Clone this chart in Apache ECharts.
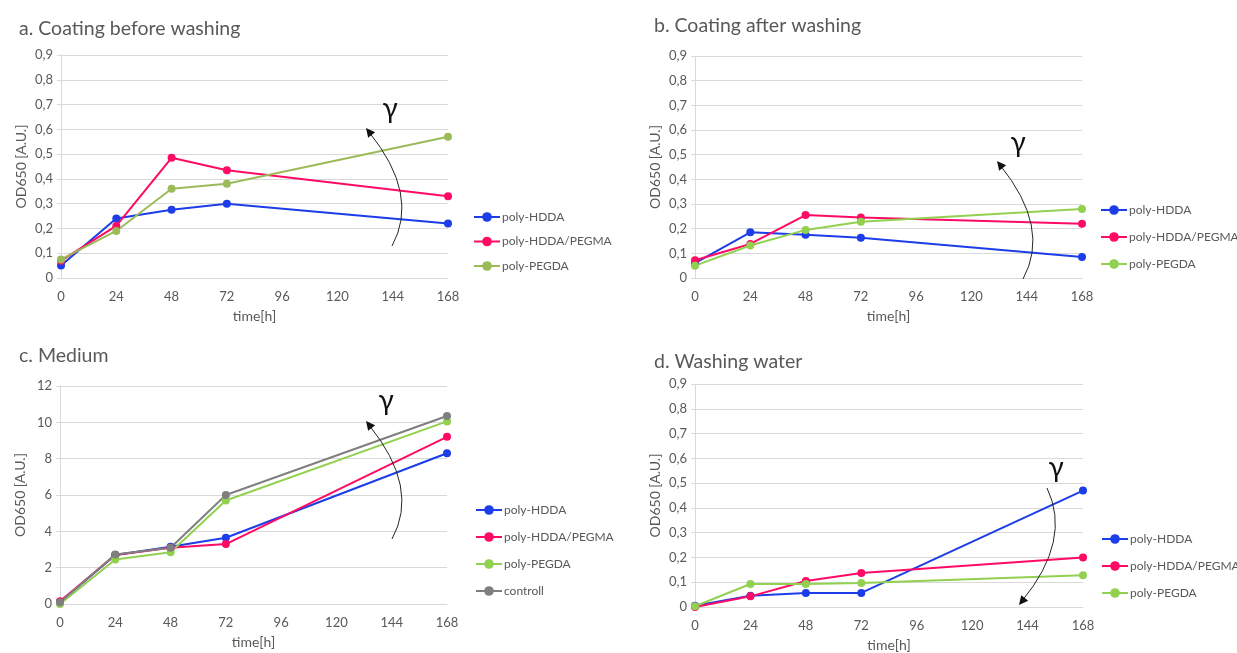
<!DOCTYPE html>
<html>
<head>
<meta charset="utf-8">
<script src="https://cdn.jsdelivr.net/npm/echarts@6/dist/echarts.min.js"></script>
<style>
  html, body { margin: 0; padding: 0; background: #fff; }
  #main { width: 1237px; height: 653px; }
</style>
</head>
<body>
<div id="main"></div>
<script>
// time points (h)
var times = [0, 24, 48, 72, 168];

// a. coating before washing
var aHdda = [0.05, 0.24, 0.275, 0.30, 0.22];
var aPegma = [0.07, 0.21, 0.485, 0.435, 0.33];
var aPegda = [0.075, 0.19, 0.36, 0.38, 0.57];

// b. coating after washing
var bHdda = [0.06, 0.185, 0.175, 0.163, 0.085];
var bPegma = [0.072, 0.138, 0.255, 0.245, 0.22];
var bPegda = [0.05, 0.132, 0.195, 0.228, 0.28];

// c. medium
var cHdda = [0.1, 2.7, 3.15, 3.65, 8.3];
var cPegma = [0.15, 2.7, 3.1, 3.3, 9.2];
var cPegda = [0.0, 2.45, 2.85, 5.7, 10.05];
var cControl = [0.1, 2.72, 3.1, 6.0, 10.35];

// d. washing water
var dHdda = [0.005, 0.045, 0.057, 0.057, 0.47];
var dPegma = [0.0, 0.043, 0.105, 0.137, 0.20];
var dPegda = [0.003, 0.093, 0.093, 0.097, 0.128];

var titles = ['a. Coating before washing', 'b. Coating after washing', 'c. Medium', 'd. Washing water'];
var names = ['poly-HDDA', 'poly-HDDA/PEGMA', 'poly-PEGDA', 'controll'];

var txt = '#595959';
var gridCol = '#d9d9d9';
var font = 'Lato, "Open Sans", sans-serif';
var blue = '#1C3DE8', pink = '#FF0A64', olive = '#9BBB59', lime = '#92D050', grey = '#7F7F7F';

var grids = [
	{left: 61, top: 55, width: 387, height: 223},
	{left: 695, top: 56, width: 387, height: 222},
	{left: 60, top: 386, width: 387, height: 218},
	{left: 695, top: 384, width: 388, height: 223}
];

function pairs(vals){
	return vals.map(function(v, i){ return [times[i], v]; });
}

function yFmt(v){
	return v === 0 ? '0' : v.toFixed(1).replace('.', ',');
}

var xAxes = [], yAxes = [], series = [], legends = [], titleList = [];

grids.forEach(function(g, k){
	xAxes.push({
		type: 'value', gridIndex: k, min: 0, max: 168, interval: 24,
		name: 'time[h]', nameLocation: 'middle', nameGap: 31,
		nameTextStyle: {color: txt, fontSize: 14, fontFamily: font},
		axisLine: {lineStyle: {color: gridCol, width: 1}},
		axisTick: {show: false},
		splitLine: {show: false},
		axisLabel: {color: txt, fontSize: 13, fontFamily: font, margin: 12}
	});
	yAxes.push({
		type: 'value', gridIndex: k, min: 0,
		max: k == 2 ? 12 : 0.9, interval: k == 2 ? 2 : 0.1,
		name: 'OD650 [A.U.]', nameLocation: 'middle', nameGap: 33,
		nameTextStyle: {color: txt, fontSize: 14, fontFamily: font},
		axisLine: {show: true, lineStyle: {color: gridCol, width: 1}},
		axisTick: {show: true, length: 4, lineStyle: {color: gridCol}},
		splitLine: {lineStyle: {color: gridCol, width: 1}},
		axisLabel: {color: txt, fontSize: 13, fontFamily: font, margin: 8,
			formatter: k == 2 ? function(v){ return String(v); } : yFmt}
	});
});

titleList = [
	{text: titles[0], left: 14, top: 14},
	{text: titles[1], left: 649, top: 11},
	{text: titles[2], left: 14, top: 341},
	{text: titles[3], left: 649, top: 347}
].map(function(t){
	t.textStyle = {color: txt, fontSize: 19.5, fontWeight: 'normal', fontFamily: font};
	return t;
});

function addLine(k, name, vals, color){
	series.push({
		type: 'line', name: name, xAxisIndex: k, yAxisIndex: k,
		data: pairs(vals), symbol: 'circle', symbolSize: 8,
		lineStyle: {color: color, width: 2},
		itemStyle: {color: color},
		animation: false
	});
}

addLine(0, names[0], aHdda, blue);
addLine(0, names[1], aPegma, pink);
addLine(0, names[2], aPegda, olive);
addLine(1, names[0], bHdda, blue);
addLine(1, names[1], bPegma, pink);
addLine(1, names[2], bPegda, lime);
addLine(2, names[0], cHdda, blue);
addLine(2, names[1], cPegma, pink);
addLine(2, names[2], cPegda, lime);
addLine(2, names[3], cControl, grey);
addLine(3, names[0], dHdda, blue);
addLine(3, names[1], dPegma, pink);
addLine(3, names[2], dPegda, lime);

// legend entries are matched by name, so each panel's series get an invisible suffix
series.forEach(function(s){ s.name = s.name + '\u200b'.repeat(s.xAxisIndex); });

function legendFor(left, top, gap, seriesIdx){
	return {
		orient: 'vertical', left: left, top: top, itemGap: gap,
		itemWidth: 26, itemHeight: 12,
		textStyle: {color: txt, fontSize: 12, fontFamily: font, padding: [0, 0, 0, -3]},
		data: seriesIdx.map(function(i){ return {name: series[i].name}; }),
		selectedMode: false
	};
}

legends = [
	legendFor(468, 206, 12.5, [0, 1, 2]),
	legendFor(1095, 199, 15, [3, 4, 5]),
	legendFor(470, 499, 15, [6, 7, 8, 9]),
	legendFor(1096, 528, 15, [10, 11, 12])
];

// curved "gamma" arrows (annotation)
function arrowGroup(p0, c, p2, tip, gx, gy){
	var dx = tip[0] - c[0], dy = tip[1] - c[1];
	var len = Math.sqrt(dx * dx + dy * dy);
	var ux = dx / len, uy = dy / len;
	var bx = tip[0] - ux * 9, by = tip[1] - uy * 9;
	return [
		{type: 'bezierCurve', shape: {x1: p0[0], y1: p0[1], x2: p2[0], y2: p2[1], cpx1: c[0], cpy1: c[1]},
			style: {stroke: '#262626', lineWidth: 1, fill: null}, z: 100},
		{type: 'polygon', shape: {points: [tip, [bx - uy * 4.5, by + ux * 4.5], [bx + uy * 4.5, by - ux * 4.5]]},
			style: {fill: '#111'}, z: 100},
		{type: 'text', x: gx, y: gy, style: {text: 'γ', fontSize: 28, fontFamily: font, fill: '#111', align: 'center', verticalAlign: 'middle'}, z: 100}
	];
}

var graphics = []
	.concat(arrowGroup([392, 246], [420, 195], [369, 132], [366, 128], 390, 109))
	.concat(arrowGroup([1023, 279], [1051, 228], [1000, 165], [997, 161], 1018, 143))
	.concat(arrowGroup([392, 539], [420, 488], [369, 425], [366, 421], 386, 401))
	.concat(arrowGroup([1047, 488], [1072, 540], [1022, 601], [1019, 605], 1056, 468));

var myChart = echarts.init(document.getElementById('main'));
myChart.setOption({
	animation: false,
	backgroundColor: '#fff',
	title: titleList,
	grid: grids,
	xAxis: xAxes,
	yAxis: yAxes,
	legend: legends,
	series: series,
	graphic: graphics
});
</script>
</body>
</html>
